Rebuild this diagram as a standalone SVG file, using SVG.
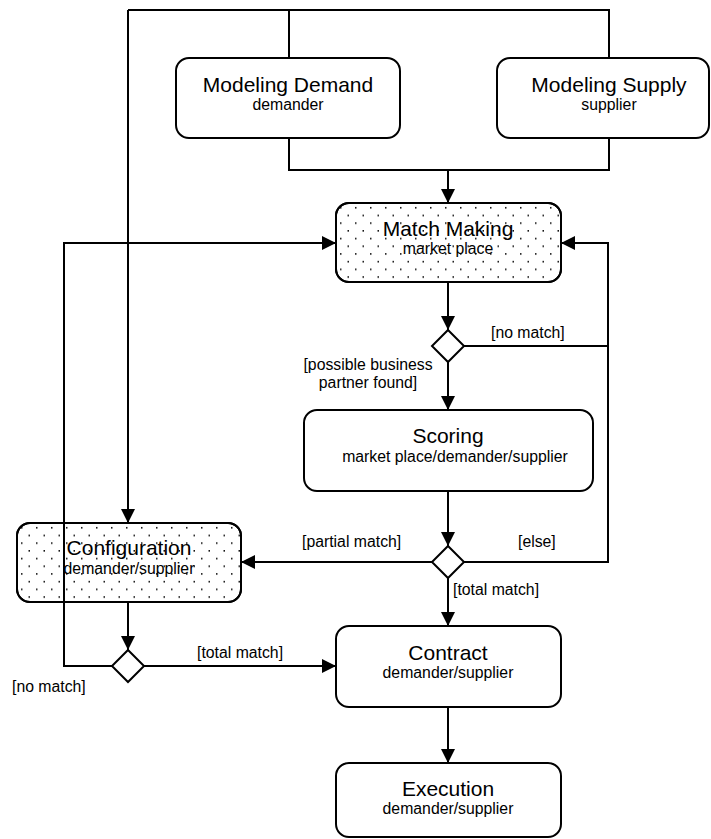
<svg xmlns="http://www.w3.org/2000/svg" width="711" height="839" viewBox="0 0 711 839">
  <defs>
    <!-- staggered dot fill for the highlighted activities -->
    <pattern id="dots" patternUnits="userSpaceOnUse" width="15" height="15.4" x="338" y="205">
      <rect x="2" y="2" width="1.5" height="1.5" fill="#000"/>
      <rect x="9.5" y="9.7" width="1.5" height="1.5" fill="#000"/>
    </pattern>
    <pattern id="dots2" patternUnits="userSpaceOnUse" width="15" height="15.4" x="19" y="525">
      <rect x="2" y="2" width="1.5" height="1.5" fill="#000"/>
      <rect x="9.5" y="9.7" width="1.5" height="1.5" fill="#000"/>
    </pattern>
    <marker id="arrow" viewBox="0 0 14 14" refX="14" refY="7" markerWidth="14" markerHeight="14" markerUnits="userSpaceOnUse" orient="auto">
      <path d="M0,0 L14,7 L0,14 Z" fill="#000"/>
    </marker>
  </defs>
  <style>
    .box { fill: #fff; stroke: #000; stroke-width: 2; }
    .dotted { stroke: #000; stroke-width: 2; }
    .diamond { fill: #fff; stroke: #000; stroke-width: 2; }
    .title { font-family: "Liberation Sans", Arial, sans-serif; font-size: 21px; fill: #000; text-anchor: middle; }
    .sub { font-family: "Liberation Sans", Arial, sans-serif; font-size: 15.8px; fill: #000; text-anchor: middle; }
    .label { font-family: "Liberation Sans", Arial, sans-serif; font-size: 15.8px; fill: #000; }
    .edge { fill: none; stroke: #000; stroke-width: 2; }
    .flow { fill: none; stroke: #000; stroke-width: 2; marker-end: url(#arrow); }
  </style>

  <rect width="711" height="839" fill="#fff"/>

  <!-- activities -->
  <g id="modeling-demand">
    <rect class="box" x="176" y="58" width="224" height="80" rx="13"/>
    <text class="title" x="288" y="92">Modeling Demand</text>
    <text class="sub" x="288" y="110">demander</text>
  </g>
  <g id="modeling-supply">
    <rect class="box" x="497" y="58" width="212" height="80" rx="13"/>
    <text class="title" x="609" y="92">Modeling Supply</text>
    <text class="sub" x="609" y="110">supplier</text>
  </g>
  <g id="match-making">
    <rect class="box" x="336" y="203" width="225" height="79" rx="13"/>
    <rect class="dotted" x="336" y="203" width="225" height="79" rx="13" fill="url(#dots)"/>
    <text class="title" x="448" y="236">Match Making</text>
    <text class="sub" x="448" y="254">market place</text>
  </g>
  <g id="scoring">
    <rect class="box" x="304" y="410" width="289" height="81" rx="13"/>
    <text class="title" x="448" y="443">Scoring</text>
    <text class="sub" x="455" y="462">market place/demander/supplier</text>
  </g>
  <g id="configuration">
    <rect class="box" x="17" y="523" width="224" height="79" rx="13"/>
    <rect class="dotted" x="17" y="523" width="224" height="79" rx="13" fill="url(#dots2)"/>
    <text class="title" x="129" y="555">Configuration</text>
    <text class="sub" x="129" y="574">demander/supplier</text>
  </g>
  <g id="contract">
    <rect class="box" x="336" y="626" width="225" height="81" rx="13"/>
    <text class="title" x="448" y="660">Contract</text>
    <text class="sub" x="448" y="678">demander/supplier</text>
  </g>
  <g id="execution">
    <rect class="box" x="336" y="763" width="225" height="74" rx="13"/>
    <text class="title" x="448" y="796">Execution</text>
    <text class="sub" x="448" y="814">demander/supplier</text>
  </g>

  <!-- decisions -->
  <g id="decision-match">
    <path class="diamond" d="M448,330 L464,346 L448,362 L432,346 Z"/>
  </g>
  <g id="decision-score">
    <path class="diamond" d="M448,546 L464,562 L448,578 L432,562 Z"/>
  </g>
  <g id="decision-config">
    <path class="diamond" d="M128,650 L144,666 L128,682 L112,666 Z"/>
  </g>

  <!-- connectors -->
  <g id="connectors">
    <path class="edge" d="M289,58 V10 H609 V58"/>
    <path class="flow" d="M128,10 H289 M128,10 V523"/>
    <path class="edge" d="M289,138 V170 H609 V138"/>
    <path class="flow" d="M448,170 V203"/>
    <path class="flow" d="M448,282 V330"/>
    <path class="flow" d="M448,362 V410"/>
    <path class="edge" d="M464,346 H608"/>
    <path class="flow" d="M464,562 H608 V243 H561"/>
    <path class="flow" d="M448,491 V546"/>
    <path class="flow" d="M432,562 H241"/>
    <path class="flow" d="M448,578 V626"/>
    <path class="flow" d="M128,602 V650"/>
    <path class="flow" d="M144,666 H336"/>
    <path class="flow" d="M112,666 H64 V243 H336"/>
    <path class="flow" d="M448,707 V763"/>
  </g>

  <!-- guard labels -->
  <g id="guards">
    <text class="label" x="491" y="338">[no match]</text>
    <text class="label" x="368" y="370" text-anchor="middle">[possible business</text>
    <text class="label" x="368" y="388" text-anchor="middle">partner found]</text>
    <text class="label" x="302" y="547">[partial match]</text>
    <text class="label" x="518" y="547">[else]</text>
    <text class="label" x="453" y="595">[total match]</text>
    <text class="label" x="197" y="658">[total match]</text>
    <text class="label" x="12" y="692">[no match]</text>
  </g>
</svg>
